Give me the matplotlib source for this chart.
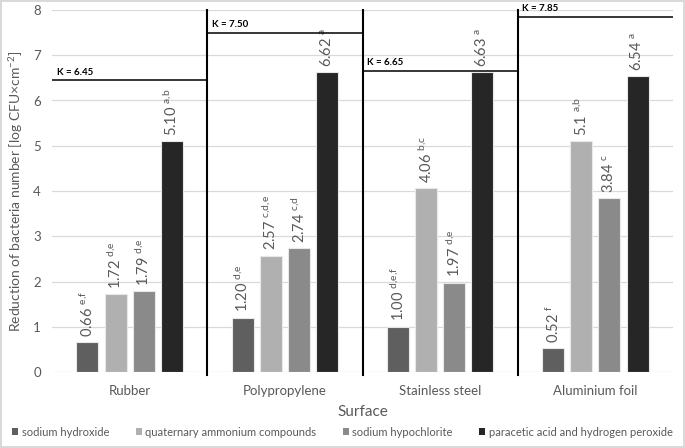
import matplotlib
matplotlib.use("Agg")
import matplotlib.pyplot as plt
import numpy as np

plt.rcParams['font.family'] = ['Lato', 'DejaVu Sans']
plt.rcParams['mathtext.fontset'] = 'custom'
plt.rcParams['mathtext.rm'] = 'Lato'
plt.rcParams['mathtext.it'] = 'Lato'

surfaces = ["Rubber", "Polypropylene", "Stainless steel", "Aluminium foil"]
series = ["sodium hydroxide", "quaternary ammonium compounds",
          "sodium hypochlorite", "paracetic acid and hydrogen peroxide"]
naoh = [0.66, 1.20, 1.00, 0.52]
qac = [1.72, 2.57, 4.06, 5.1]
naocl = [1.79, 2.74, 1.97, 3.84]
paa = [5.10, 6.62, 6.63, 6.54]
naoh_lbl = ["0.66", "1.20", "1.00", "0.52"]
qac_lbl = ["1.72", "2.57", "4.06", "5.1"]
naocl_lbl = ["1.79", "2.74", "1.97", "3.84"]
paa_lbl = ["5.10", "6.62", "6.63", "6.54"]
naoh_sup = ["e,f", "d,e", "d,e,f", "f"]
qac_sup = ["d,e", "c,d,e", "b,c", "a,b"]
naocl_sup = ["d,e", "c,d", "d,e", "c"]
paa_sup = ["a,b", "a", "a", "a"]
k_values = [6.45, 7.50, 6.65, 7.85]
k_labels = ["K = 6.45", "K = 7.50", "K = 6.65", "K = 7.85"]

colors = ["#5f5f5f", "#b0b0b0", "#8a8a8a", "#262626"]
values = [naoh, qac, naocl, paa]
labels = [naoh_lbl, qac_lbl, naocl_lbl, paa_lbl]
sups = [naoh_sup, qac_sup, naocl_sup, paa_sup]

fig = plt.figure(figsize=(6.85, 4.48), dpi=100)
fig.patch.set_edgecolor("#d9d9d9")
fig.patch.set_linewidth(1.5)
ax = fig.add_axes([52/685, 1-372/448, (673-52)/685, (372-10)/448])

x = np.arange(len(surfaces))
slot = 0.181
bw = 0.142
txtc = "#595959"
for j in range(4):
    xs = x + (j - 1.5) * slot
    ax.bar(xs, values[j], width=bw, color=colors[j], edgecolor="#e8e8e8",
           linewidth=0.8, label=series[j], zorder=3)
    for xi, v, l, s in zip(xs, values[j], labels[j], sups[j]):
        s_m = s.replace(",", "{,}")
        ax.text(xi, v + 0.12, l + r" $^{\mathrm{" + s_m + "}}$", rotation=90,
                ha="center", va="bottom", fontsize=10.5, color=txtc)

for i, (k, kl) in enumerate(zip(k_values, k_labels)):
    ax.plot([i - 0.5, i + 0.5], [k, k], color="black", lw=1.1, zorder=4)
    ax.text(i - 0.47, k + 0.08, kl, fontsize=7, fontweight="bold",
            ha="left", va="bottom", color="black")
for b in [0.5, 1.5, 2.5]:
    ax.plot([b, b], [-0.06, 8], color="black", lw=1.5, zorder=4, clip_on=False)

ax.set_xlim(-0.5, 3.5)
ax.set_ylim(0, 8)
ax.set_yticks(range(0, 9))
ax.yaxis.grid(True, color="#d9d9d9", lw=0.9, zorder=0)
ax.set_axisbelow(True)
for sp in ax.spines.values():
    sp.set_visible(False)
ax.tick_params(axis="both", length=0, colors=txtc, labelsize=9.5)
ax.tick_params(axis="x", pad=9)
ax.tick_params(axis="y", pad=8)
ax.set_xticks(x)
ax.set_xticklabels(surfaces)
ax.set_xlabel("Surface", fontsize=11, color=txtc, labelpad=6)
ax.set_ylabel("Reduction of bacteria number [log CFU×cm$^{-2}$]",
              fontsize=10, color=txtc, labelpad=6)

leg = fig.legend(loc="center", bbox_to_anchor=(0.5, 1 - 432/448), ncol=4,
                 frameon=False, fontsize=8, handlelength=0.55, handleheight=0.55,
                 handletextpad=0.3, columnspacing=2.4, labelcolor=txtc)
for h in leg.legend_handles:
    h.set_edgecolor("none")

fig.savefig("out.png", dpi=100)
